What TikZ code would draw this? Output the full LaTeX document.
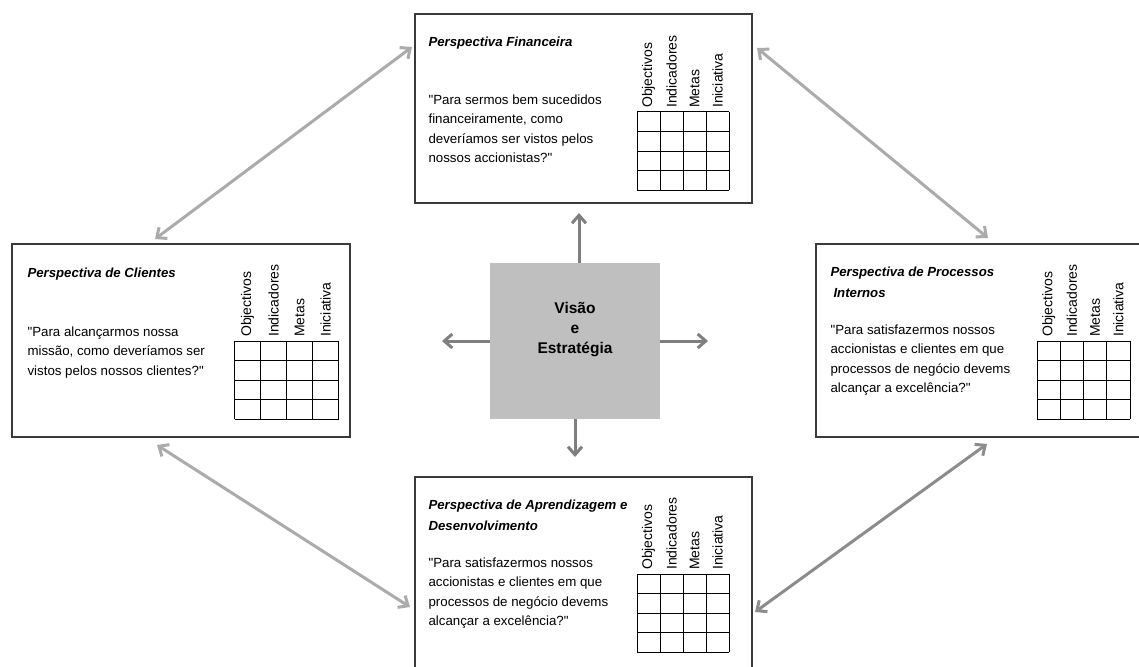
\documentclass[tikz,border=0pt]{standalone}
\usepackage{fontspec}
\setmainfont{Liberation Sans}
\usetikzlibrary{arrows.meta,positioning,calc}

\definecolor{caixa}{HTML}{3A3A3A}
\definecolor{cinzaq}{HTML}{BFBFBF}
\definecolor{setaC}{HTML}{7F7F7F}
\definecolor{setaD}{HTML}{ABABAB}
\definecolor{setaE}{HTML}{8C8C8C}

% aspas rectas (sem a conversao TeX)
\newcommand{\aspas}{\XeTeXglyph\XeTeXcharglyph"22\relax}

% grelha 4x4 com os titulos das colunas: nome, x esq., y topo, largura da celula
\newcommand{\grelha}[4]{%
  \foreach \i in {0,...,4} {
    \draw[linhag] ({#2+\i*#4}, #3) -- ++(0,78);
    \draw[linhag] (#2, {#3+\i*19.5}) -- ++({4*#4},0);
  }
  \foreach \lab [count=\k] in {Objectivos,Indicadores,Metas,Iniciativa}
    \node[coluna] (#1-\k) at ({#2+(\k-0.5)*#4}, {#3-4}) {\lab};
}

\begin{document}
\begin{tikzpicture}[x=1pt, y=-1pt]
        \tikzstyle{persp}=[rectangle, draw=caixa, line width=1.3pt, fill=white];
        \tikzstyle{titulo}=[anchor=north west, inner sep=0pt, align=left, font=\fontsize{13.2}{21}\selectfont\bfseries\itshape];
        \tikzstyle{pergunta}=[anchor=north west, inner sep=0pt, align=left, font=\fontsize{13.3}{19.5}\selectfont];
        \tikzstyle{coluna}=[rotate=90, anchor=west, inner sep=0pt, font=\fontsize{14}{16}\selectfont];
        \tikzstyle{linhag}=[line width=1pt, black];
        \tikzstyle{setacentro}=[line width=3pt, setaC, -{Straight Barb[length=8pt, width=14pt]}];
        \tikzstyle{setadupla}=[line width=3pt, setaD, {Straight Barb[length=8pt, width=14pt]}-{Straight Barb[length=8pt, width=14pt]}];

        \clip (0,0) rectangle (1139,666);

        % centro
        \node[rectangle, fill=cinzaq, minimum width=170pt, minimum height=156pt] (vis) at (575, 341) {};
        \node[align=center, font=\fontsize{15.5}{20}\selectfont\bfseries] (vistxt) at (575, 330) {Visão\\e\\Estratégia};

        % as quatro perspectivas
        \node[persp, minimum width=337pt, minimum height=189pt] (fin) at (583.5, 108.5) {};
        \node[persp, minimum width=338pt, minimum height=193pt] (cli) at (181, 340.5) {};
        \node[persp, minimum width=345pt, minimum height=193pt] (pro) at (988.5, 340.5) {};
        \node[persp, minimum width=337pt, minimum height=213pt] (apr) at (583.5, 583.5) {};

        \node[titulo] (fin-tit) at ([shift={(14,23)}]fin.north west) {Perspectiva Financeira};
        \node[pergunta] (fin-txt) at ([shift={(14,81)}]fin.north west) {\aspas Para sermos bem sucedidos\\financeiramente, como\\deveríamos ser vistos pelos\\nossos accionistas?\aspas};
        \grelha{fin}{637}{112}{23}

        \node[titulo] (cli-tit) at ([shift={(16,24)}]cli.north west) {Perspectiva de Clientes};
        \node[pergunta] (cli-txt) at ([shift={(16,83)}]cli.north west) {\aspas Para alcançarmos nossa\\missão, como deveríamos ser\\vistos pelos nossos clientes?\aspas};
        \grelha{cli}{234.5}{341}{26}

        \node[titulo] (pro-tit) at ([shift={(15,23)}]pro.north west) {Perspectiva de Processos\\\hspace{3pt}Internos};
        \node[pergunta] (pro-txt) at ([shift={(15,81)}]pro.north west) {\aspas Para satisfazermos nossos\\accionistas e clientes em que\\processos de negócio devems\\alcançar a excelência?\aspas};
        \grelha{pro}{1037}{341}{23.25}

        \node[titulo] (apr-tit) at ([shift={(14,23)}]apr.north west) {Perspectiva de Aprendizagem e\\Desenvolvimento};
        \node[pergunta] (apr-txt) at ([shift={(14,81)}]apr.north west) {\aspas Para satisfazermos nossos\\accionistas e clientes em que\\processos de negócio devems\\alcançar a excelência?\aspas};
        \grelha{apr}{637}{574}{23}

        % setas do centro
        \coordinate (fimN) at (579, 213);
        \coordinate (fimS) at (575, 457);
        \coordinate (fimO) at (442, 341);
        \coordinate (fimE) at (708, 341);
        \draw[setacentro] ([xshift=4pt]vis.north) -- (fimN);
        \draw[setacentro] (vis.south) -- (fimS);
        \draw[setacentro] (vis.west) -- (fimO);
        \draw[setacentro] (vis.east) -- (fimE);

        % setas entre perspectivas
        \coordinate (cliN) at (155, 239);
        \coordinate (finO) at (412, 47);
        \coordinate (finE) at (757, 48);
        \coordinate (proN) at (988, 238);
        \coordinate (cliS) at (157, 445);
        \coordinate (aprO) at (410, 607);
        \coordinate (proS) at (987, 444);
        \coordinate (aprE) at (755, 612);
        \draw[setadupla] (cliN) -- (finO);
        \draw[setadupla] (finE) -- (proN);
        \draw[setadupla] (cliS) -- (aprO);
        \draw[setadupla, setaE] (proS) -- (aprE);

\end{tikzpicture}
\end{document}
